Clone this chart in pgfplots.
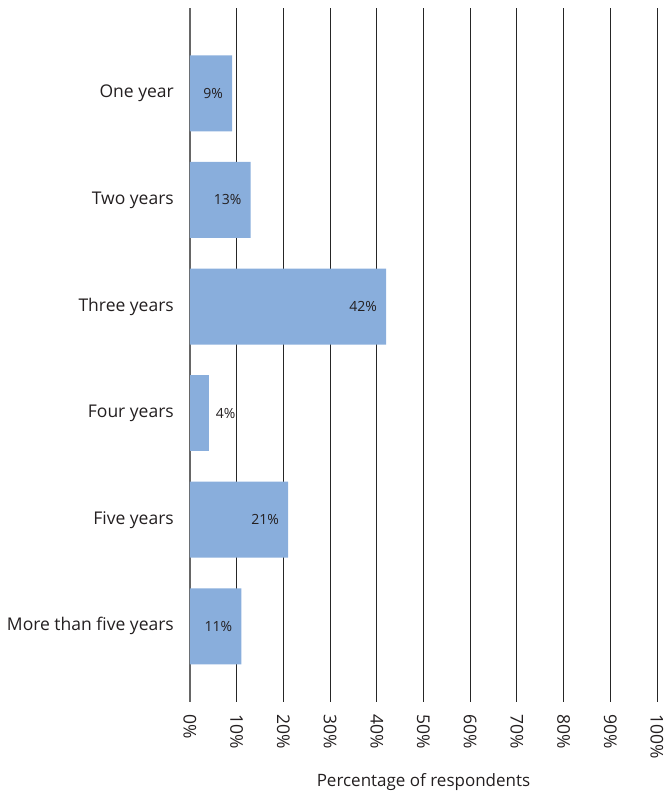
\documentclass[border=0pt]{standalone}
\usepackage{pgfplots}
\pgfplotsset{compat=1.18}
\usepackage{pgfplotstable}
\usepackage{fontspec}
\setmainfont{Open Sans}

\definecolor{barblue}{RGB}{137,174,220}
\definecolor{txt}{RGB}{35,31,32}

% Share of respondents by period; position 0 is the top row
\pgfplotstableread{
pos value
0 9
1 13
2 42
4 21
5 11
}\insidelabels
% Short bar: its label sits to the right of the bar
\pgfplotstableread{
pos value
3 4
}\outsidelabels

\begin{document}
\begin{tikzpicture}
\begin{axis}[
  scale only axis,
  width=467pt, height=694pt,
  xmin=0, xmax=100,
  ymin=-0.8, ymax=5.71,
  y dir=reverse,
  xtick={0,10,...,100},
  xticklabels={0\%,10\%,20\%,30\%,40\%,50\%,60\%,70\%,80\%,90\%,100\%},
  ytick={0,...,5},
  yticklabels={One year,Two years,Three years,Four years,Five years,More than five years},
  axis line style={draw=none},
  major tick length=0pt,
  xmajorgrids,
  major grid style={draw=black!85, line width=0.9pt},
  extra x ticks={0},
  extra x tick labels={},
  extra x tick style={major grid style={draw=black!60, line width=1.6pt}},
  xticklabel style={rotate=-90, anchor=west, inner sep=0pt,
    font=\fontsize{17.5}{20}\selectfont, text=txt},
  xticklabel shift=12pt,
  yticklabel style={anchor=east, inner sep=0pt,
    font=\fontsize{17.5}{20}\selectfont, text=txt},
  yticklabel shift=16pt,
  xlabel={Percentage of respondents},
  xlabel style={at={(axis description cs:0.5,0)}, anchor=base, yshift=-84pt,
    font=\fontsize{17}{20}\selectfont, text=txt},
  /pgf/number format/assume math mode=true,
  clip=false,
]
\addplot[xbar, bar shift=0pt, bar width=76pt, fill=barblue, draw=none,
  point meta=x,
  nodes near coords={\pgfmathprintnumber{\pgfplotspointmeta}\%},
  nodes near coords style={anchor=east, xshift=-9pt, inner sep=0pt,
    font=\fontsize{14}{16}\selectfont, text=txt}]
  table[x=value, y=pos] {\insidelabels};
\addplot[xbar, bar shift=0pt, bar width=76pt, fill=barblue, draw=none,
  point meta=x,
  nodes near coords={\pgfmathprintnumber{\pgfplotspointmeta}\%},
  nodes near coords style={anchor=west, xshift=7pt, inner sep=0pt,
    font=\fontsize{14}{16}\selectfont, text=txt}]
  table[x=value, y=pos] {\outsidelabels};
\end{axis}
% page frame around the plot area and its labels
\pgfresetboundingbox
\path[use as bounding box] (current axis.south west) ++(-190pt,-89pt)
  rectangle ([shift={(8pt,8pt)}]current axis.north east);
\end{tikzpicture}
\end{document}
